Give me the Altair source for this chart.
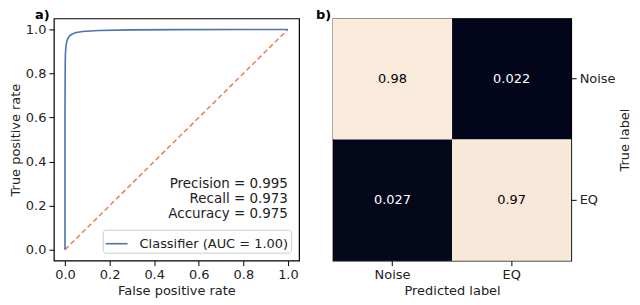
import altair as alt
import pandas as pd

# ---- data ----
fpr = [0.0, 0.0, 0.0005, 0.001, 0.002, 0.004, 0.007, 0.01, 0.015, 0.02, 0.03, 0.05, 0.08, 0.15, 0.3, 0.5, 0.8, 1.0]
tpr = [0.0, 0.6, 0.75, 0.84, 0.89, 0.92, 0.94, 0.952, 0.963, 0.970, 0.978, 0.986, 0.991, 0.995, 0.998, 0.999, 1.0, 1.0]
diag_x = [0.0, 1.0]
diag_y = [0.0, 1.0]
series_name = "Classifier (AUC = 1.00)"
metric_labels = ["Precision = 0.995", "Recall = 0.973", "Accuracy = 0.975"]
metric_x = [1.0, 1.0, 1.0]
metric_y = [0.30, 0.232, 0.164]
tick_vals = [0.0, 0.2, 0.4, 0.6, 0.8, 1.0]

classes = ["Noise", "EQ"]
cm_true = ["Noise", "Noise", "EQ", "EQ"]
cm_pred = ["Noise", "EQ", "Noise", "EQ"]
cm_val = [0.98, 0.022, 0.027, 0.97]
cm_text = ["0.98", "0.022", "0.027", "0.97"]

FONT = "DejaVu Sans"

roc_df = pd.DataFrame({"fpr": fpr, "tpr": tpr, "idx": list(range(len(fpr))),
                       "series": [series_name] * len(fpr)})
diag_df = pd.DataFrame({"fpr": diag_x, "tpr": diag_y})
met_df = pd.DataFrame({"fpr": metric_x, "tpr": metric_y, "label": metric_labels})
cm_df = pd.DataFrame({"true": cm_true, "pred": cm_pred, "val": cm_val, "txt": cm_text})

sc = alt.Scale(domain=[-0.05, 1.05], nice=False, zero=False)
xax = alt.Axis(values=tick_vals, format=".1f", title="False positive rate")
yax = alt.Axis(values=tick_vals, format=".1f", title="True positive rate")
X = alt.X("fpr:Q", scale=sc, axis=xax)
Y = alt.Y("tpr:Q", scale=sc, axis=yax)

roc = alt.Chart(roc_df).mark_line(strokeWidth=1.6).encode(
    x=X, y=Y, order="idx:Q",
    color=alt.Color("series:N", scale=alt.Scale(range=["#4c72b0"]),
                    legend=alt.Legend(title=None, orient="bottom-right", offset=8,
                                      symbolType="stroke", symbolSize=484,
                                      symbolStrokeWidth=1.6, labelFontSize=13,
                                      labelFont=FONT, labelOffset=11,
                                      strokeColor="#cccccc", fillColor="white",
                                      padding=2, cornerRadius=3,
                                      labelColor="#222222")),
)
diag = alt.Chart(diag_df).mark_line(strokeWidth=1.5, strokeDash=[5, 3], color="#dd8452").encode(x=X, y=Y)
mets = alt.Chart(met_df).mark_text(align="right", fontSize=13.5, font=FONT, color="#222222", baseline="middle").encode(
    x=X, y=Y, text="label:N")

left = alt.layer(diag, roc, mets).properties(
    width=246, height=243,
    title=alt.TitleParams("a)", anchor="start", frame="group", dx=-19, offset=-4,
                          fontSize=13, fontWeight="bold", font=FONT),
)

bscale = alt.Scale(paddingInner=0, paddingOuter=0)
CX = alt.X("pred:N", sort=classes, scale=bscale, axis=alt.Axis(title="Predicted label", labelAngle=0))
CY = alt.Y("true:N", sort=classes, scale=bscale,
           axis=alt.Axis(title="True label", orient="right", titleAngle=270, titleBaseline="top",
                         labelPadding=3, titlePadding=3))
rect = alt.Chart(cm_df).mark_rect().encode(
    x=CX, y=CY,
    color=alt.Color("val:Q", scale=alt.Scale(domain=[0.022, 0.98], range=["#03051a", "#faebdd"]), legend=None),
)
ctext = alt.Chart(cm_df).mark_text(fontSize=13, font=FONT).encode(
    x=CX, y=CY, text="txt:N",
    color=alt.condition("datum.val > 0.5", alt.value("black"), alt.value("white")),
)
right = alt.layer(rect, ctext).properties(
    width=239, height=243,
    title=alt.TitleParams("b)", anchor="start", frame="group", dx=-17, offset=-4,
                          fontSize=13, fontWeight="bold", font=FONT),
)

chart = alt.hconcat(left, right, spacing=15).properties(
    padding={"left": 0, "top": 0, "right": 0, "bottom": 0}
).configure_view(stroke="black", strokeWidth=1.2).configure_axis(
    grid=False, domain=False, tickColor="black", tickSize=5, tickWidth=1,
    labelFont=FONT, labelFontSize=13, labelColor="#222222", labelPadding=3,
    titleFont=FONT, titleFontSize=13, titleFontWeight="normal", titleColor="#222222", titlePadding=3,
).configure_title(color="black")

chart.save("out.html", embed_options={"renderer": "svg", "actions": False})
